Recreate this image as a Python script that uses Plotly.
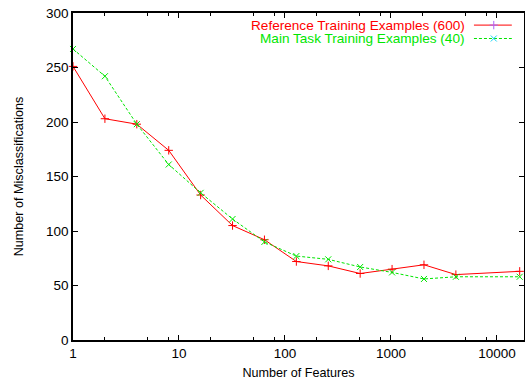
import plotly.graph_objects as go

features = [1, 2, 4, 8, 16, 32, 64, 128, 256, 512, 1024, 2048, 4096, 16384]
ref_600 = [251, 203, 198, 174, 133, 105, 92, 72, 68, 61, 65, 69, 60, 63]
main_40 = [267, 242, 198, 161, 135, 111, 90, 77, 74, 67, 62, 56, 58, 58]
x_ticks = [1, 10, 100, 1000, 10000]
x_tick_labels = ["1", "10", "100", "1000", "10000"]
y_ticks = [0, 50, 100, 150, 200, 250, 300]
series_names = ["Reference Training Examples (600)", "Main Task Training Examples (40)"]
RED = "#ff0000"
GREEN = "#00e600"

minor_vals = [m * 10 ** d for d in range(5) for m in (2, 5, 8)]

fig = go.Figure()
fig.add_trace(go.Scatter(x=features, y=ref_600, mode="lines+markers",
                         line=dict(color=RED, width=1),
                         marker=dict(symbol="cross-thin-open", size=6,
                                     line=dict(color=RED, width=1)),
                         showlegend=False, cliponaxis=False))
fig.add_trace(go.Scatter(x=features, y=main_40, mode="lines+markers",
                         line=dict(color=GREEN, width=1, dash="3px,2px"),
                         marker=dict(symbol="x-thin-open", size=6,
                                     line=dict(color=GREEN, width=1)),
                         showlegend=False, cliponaxis=False))

# legend samples (on overlay axes in [0,1])
leg_y = [0.963, 0.922]
for col, sym, dash, yy in zip([RED, GREEN], ["cross-thin-open", "x-thin-open"],
                              ["solid", "3px,2px"], leg_y):
    fig.add_trace(go.Scatter(x=[0.889, 0.973], y=[yy, yy], mode="lines",
                             line=dict(color=col, width=1, dash=dash),
                             xaxis="x2", yaxis="y2", showlegend=False, hoverinfo="skip"))
    fig.add_trace(go.Scatter(x=[0.933], y=[yy], mode="markers",
                             marker=dict(symbol=sym, size=6, line=dict(color=col, width=1)),
                             xaxis="x2", yaxis="y2", showlegend=False, hoverinfo="skip"))

for name, col, yy in zip(series_names, [RED, GREEN], leg_y):
    fig.add_annotation(x=0.869, y=yy, xref="paper", yref="paper",
                       text=name, showarrow=False, xanchor="right", yanchor="middle",
                       xshift=1, borderpad=0,
                       font=dict(color=col, size=13.6, family="Liberation Sans, Arial"))

font = dict(family="Liberation Sans, Arial", size=13.5, color="#000000")
title_font = dict(family="Liberation Sans, Arial", size=12.6, color="#000000")
fig.update_layout(
    width=525, height=380,
    margin=dict(l=73, r=1, t=13, b=40, autoexpand=False),
    paper_bgcolor="white", plot_bgcolor="white",
    font=font,
    xaxis=dict(type="log", range=[0, 4.255], tickvals=x_ticks, ticktext=x_tick_labels,
               ticks="inside", ticklen=5, tickwidth=1, tickcolor="black",
               showline=True, linecolor="black", linewidth=1.5, mirror="ticks",
               showgrid=False, zeroline=False, automargin=False,
               minor=dict(tickvals=minor_vals, ticks="inside", ticklen=3,
                          tickcolor="black", showgrid=False),
               title=dict(text="Number of Features", standoff=11, font=title_font),
               tickfont=font),
    yaxis=dict(range=[0, 300], tickvals=y_ticks,
               ticks="inside", ticklen=5, tickwidth=1, tickcolor="black",
               showline=True, linecolor="black", linewidth=1.5, mirror="ticks",
               showgrid=False, zeroline=False, automargin=False,
               title=dict(text="Number of Misclassifications", standoff=20, font=title_font),
               tickfont=font),
    xaxis2=dict(overlaying="x", range=[0, 1], visible=False),
    yaxis2=dict(overlaying="y", range=[0, 1], visible=False),
)

fig.write_html("out.html", config={"displayModeBar": False},
               post_script="document.body.style.margin='0';document.body.style.padding='0';")
